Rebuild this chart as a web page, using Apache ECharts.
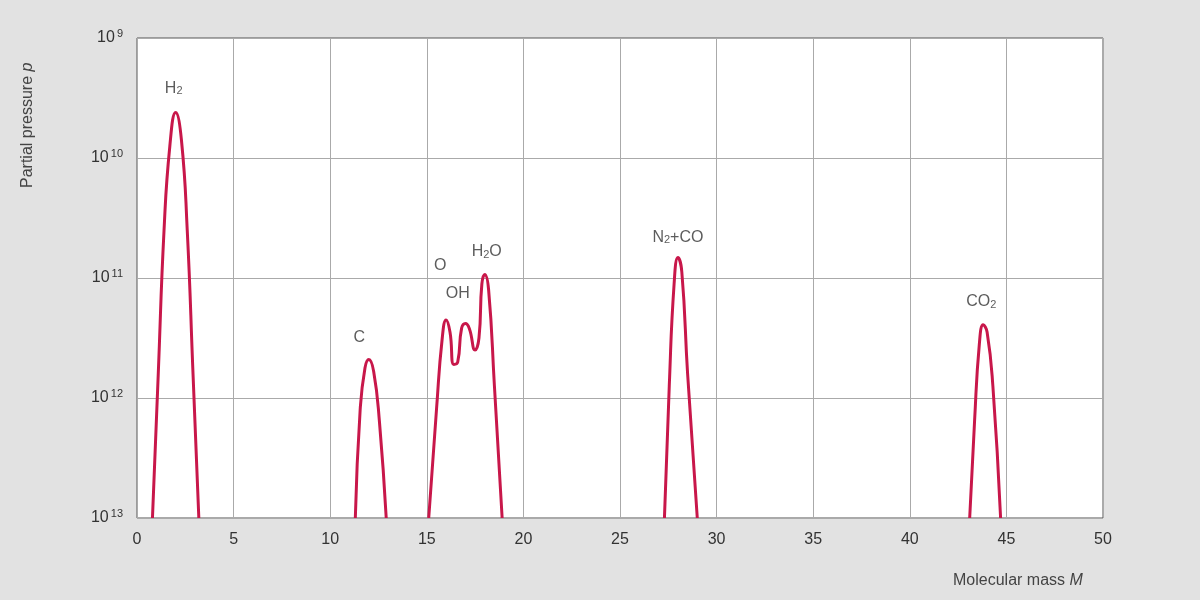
<!DOCTYPE html>
<html><head><meta charset="utf-8">
<script src="https://cdn.jsdelivr.net/npm/echarts@6/dist/echarts.min.js"></script>
<style>html,body{margin:0;background:#e2e2e2}#c{width:1200px;height:600px}</style>
</head><body><div id="c"></div>
<script>
const xTicks = [0,5,10,15,20,25,30,35,40,45,50];
const yExponents = [9,10,11,12,13];
const h2 = [[0.8,13],[1.1,11.8],[1.4,10.6],[1.7,9.9],[2.0,9.62],[2.3,9.85],[2.6,10.6],[2.9,11.8],[3.2,13]];
const carbon = [[11.3,13],[11.55,12.1],[11.8,11.75],[12.0,11.68],[12.25,11.78],[12.55,12.2],[12.9,13]];
const waterGroup = [[15.1,13],[15.5,12.1],[15.8,11.5],[16.0,11.35],[16.2,11.45],[16.4,11.72],[16.6,11.7],[16.8,11.42],[17.0,11.38],[17.2,11.42],[17.5,11.6],[17.7,11.5],[17.85,11.05],[18.0,10.97],[18.2,11.1],[18.5,11.9],[18.9,13]];
const n2co = [[27.3,13],[27.55,11.9],[27.8,11.05],[28.0,10.83],[28.2,10.95],[28.5,11.8],[29.0,13]];
const co2 = [[43.1,13],[43.35,12.2],[43.6,11.55],[43.8,11.39],[44.0,11.45],[44.3,11.9],[44.7,13]];
const peakLabels = [
  {x:1.9,y:9.42,t:'H{s|2}'},{x:11.5,y:11.5,t:'C'},{x:15.7,y:10.9,t:'O'},
  {x:16.6,y:11.13,t:'OH'},{x:18.1,y:10.78,t:'H{s|2}O'},{x:28,y:10.66,t:'N{s|2}+CO'},{x:43.7,y:11.2,t:'CO{s|2}'}
];
const color = '#c8174a';
const chart = echarts.init(document.getElementById('c'));
const lineSeries = [h2,carbon,waterGroup,n2co,co2].map(d=>({type:'line',data:d,smooth:0.5,showSymbol:false,clip:true,lineStyle:{color,width:3}}));
chart.setOption({
  backgroundColor:'#e2e2e2',
  grid:{left:137,right:97,top:38,bottom:82,containLabel:false,outerBoundsMode:'none',show:true,backgroundColor:'#fff',borderColor:'#555',borderWidth:1},
  graphic:[
    {type:'text',left:953,top:573,style:{text:'Molecular mass {i|M}',fill:'#444',fontSize:16,fontFamily:'Liberation Sans',rich:{i:{fontStyle:'italic',fontSize:16,fill:'#444'}}}},
    {type:'text',x:20,y:188,rotation:Math.PI/2,style:{text:'Partial pressure {i|p}',fill:'#444',fontSize:16,fontFamily:'Liberation Sans',rich:{i:{fontStyle:'italic',fontSize:16,fill:'#444'}}}}
  ],
  xAxis:{type:'value',min:0,max:50,interval:5,
    axisLine:{show:false},axisTick:{show:false},splitLine:{lineStyle:{color:'#aaa'}},
    axisLabel:{color:'#333',fontSize:16,margin:14,fontFamily:'Liberation Sans'}},
  yAxis:{type:'value',min:9,max:13,interval:1,inverse:true,
    axisLine:{show:false},axisTick:{show:false},splitLine:{lineStyle:{color:'#aaa'}},
    axisLabel:{fontFamily:'Liberation Sans',margin:14,formatter:v=>'{b|10}{e|'+v+'}',rich:{b:{fontSize:16,color:'#333'},e:{fontSize:11,color:'#333',verticalAlign:'top',padding:[0,0,8,2]}}}},
  series:[...lineSeries,{type:'scatter',symbolSize:0,silent:true,
    data:peakLabels.map(p=>({value:[p.x,p.y],label:{formatter:p.t}})),
    label:{show:true,position:'inside',color:'#333',fontSize:16,fontFamily:'Liberation Sans',rich:{s:{fontSize:11,color:'#333',verticalAlign:'bottom',padding:[6,0,0,0]}}}}]
});
</script></body></html>
